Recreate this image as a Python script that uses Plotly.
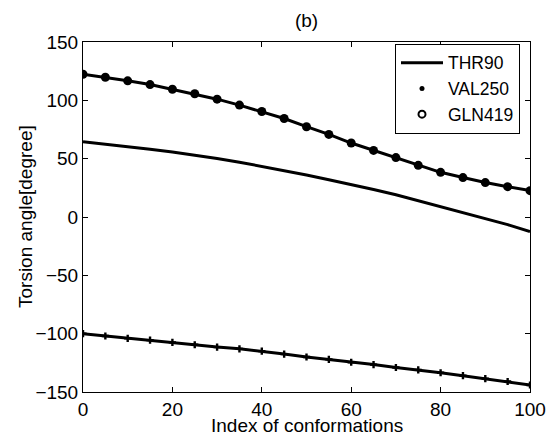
import plotly.graph_objects as go

x_idx = list(range(0, 101, 5))
thr90 = [64.5, 62.5, 60.3, 58.1, 55.8, 53.2, 50.2, 47, 43.5, 39.8, 36, 32, 28, 23.5, 19, 14, 9, 4, -1, -6.5, -12.5]
val250 = [-100, -102, -104, -105.5, -107.5, -109.5, -111.5, -113, -115, -117.5, -120, -122, -124.5, -126.5, -129, -131, -133.5, -136, -138.5, -141, -144]
gln419 = [122.4, 119.8, 116.7, 113.5, 109.5, 105.6, 101, 95.9, 90.4, 84.4, 77.4, 70.8, 63.4, 57.1, 50.9, 44.3, 38.3, 33.8, 29.5, 26, 22.6]

x_ticks = [0, 20, 40, 60, 80, 100]
y_ticks = [-150, -100, -50, 0, 50, 100, 150]

FONT = "Liberation Sans, Arial, sans-serif"
FS = 19
fig = go.Figure()

# data traces
fig.add_trace(go.Scatter(x=x_idx, y=thr90, mode="lines", name="THR90",
                         line=dict(color="black", width=3), legendrank=1))
fig.add_trace(go.Scatter(x=x_idx, y=val250, mode="lines+markers", showlegend=False,
                         line=dict(color="black", width=3),
                         marker=dict(symbol="cross", size=6, color="black")))
fig.add_trace(go.Scatter(x=x_idx, y=gln419, mode="lines+markers", showlegend=False,
                         line=dict(color="black", width=3),
                         marker=dict(symbol="circle", size=9, color="black")))
# legend-only entries (marker style as in the legend of the original)
fig.add_trace(go.Scatter(x=[None], y=[None], mode="markers", name="VAL250", legendrank=2,
                         marker=dict(symbol="circle", size=5, color="black")))
fig.add_trace(go.Scatter(x=[None], y=[None], mode="markers", name="GLN419", legendrank=3,
                         marker=dict(symbol="circle-open", size=7, color="black",
                                     line=dict(width=2, color="black"))))

axis_common = dict(showgrid=False, zeroline=False, showline=True, linecolor="black",
                   linewidth=1, mirror="ticks", ticks="inside", ticklen=5,
                   tickcolor="black", automargin=False,
                   tickfont=dict(size=FS, color="black", family=FONT))

# page has an 8px body offset: margins compensate so the plot sits at 83..530 x 42..392
fig.update_layout(
    width=560, height=434,
    margin=dict(l=75, r=38, t=34, b=50),
    paper_bgcolor="white", plot_bgcolor="white",
    font=dict(family=FONT, color="black"),
    title=dict(text="(b)", x=(75 + 522) / 2 / 560, xanchor="center", y=1 - 12 / 434,
               yanchor="middle", font=dict(size=FS, family=FONT, color="black")),
    xaxis=dict(range=[0, 100], tickvals=x_ticks, **axis_common),
    yaxis=dict(range=[-150, 150], tickvals=y_ticks, **axis_common),
    annotations=[
        dict(text="Torsion angle[degree]", xref="paper", yref="paper",
             x=(17 - 75) / 447, y=0.5, xanchor="center", yanchor="middle",
             textangle=-90, showarrow=False,
             font=dict(size=FS, family=FONT, color="black")),
        dict(text="Index of conformations", xref="paper", yref="paper",
             x=0.5, y=-33 / 350, xanchor="center", yanchor="middle",
             showarrow=False, font=dict(size=FS, family=FONT, color="black")),
    ],
    legend=dict(x=(520 - 83) / 447, y=0.995, xanchor="right", yanchor="top",
                bgcolor="white", bordercolor="black", borderwidth=1,
                font=dict(size=17.5, family=FONT, color="black"),
                tracegroupgap=0, itemwidth=42),
    showlegend=True,
)

fig.write_html("out.html")
